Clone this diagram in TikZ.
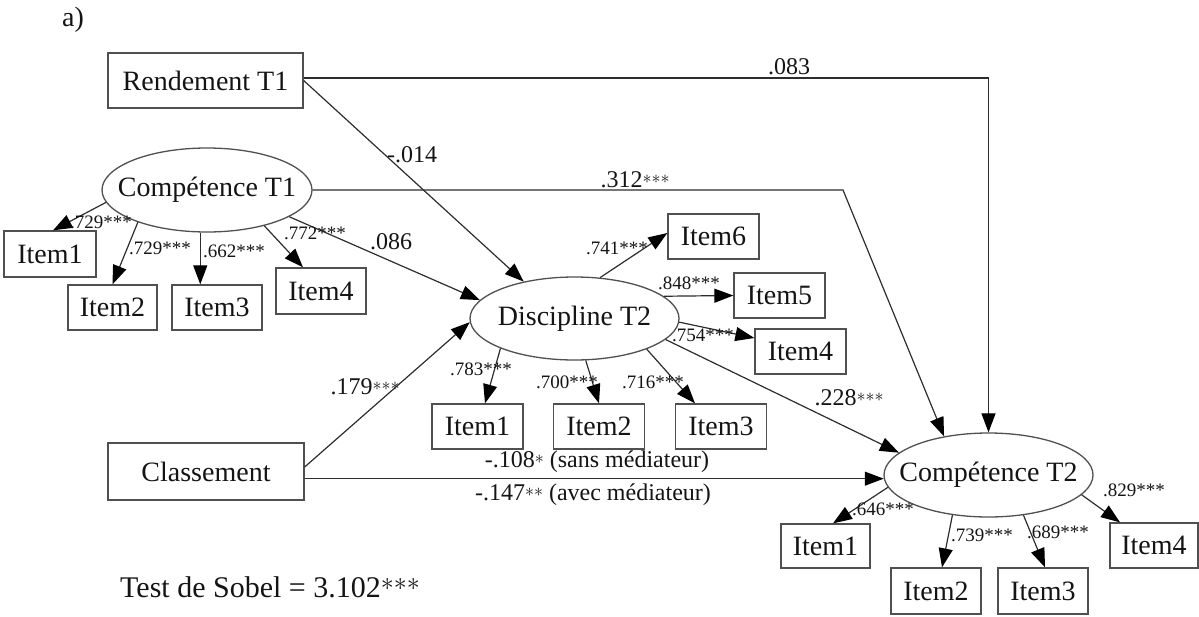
\RequirePackage{fix-cm}
\documentclass[tikz,border=0pt]{standalone}
\usepackage{fontspec}
\setmainfont{Liberation Serif}
\usetikzlibrary{shapes.geometric,arrows.meta,calc}
\definecolor{boxc}{RGB}{80,80,80}
\definecolor{linec}{RGB}{45,45,45}
\definecolor{txtc}{RGB}{20,20,20}
\newcommand{\ellt}[1]{\makebox[0pt][c]{#1}}
\newcommand{\fsz}[1]{\fontsize{#1}{#1}\selectfont}
% centred stars: size, raise, content
\newcommand{\mst}[3]{\raisebox{#2}{\fontsize{#1}{#1}\selectfont$#3$}}
\newcommand{\tri}{{\ast}{\ast}{\ast}}
\begin{document}
\begin{tikzpicture}[x=1pt,y=-1pt,
  box/.style={draw=boxc,line width=1.3pt,rectangle,inner sep=0pt,font=\fsz{28},text=txtc},
  itembox/.style={box,minimum width=90pt,minimum height=45pt},
  lat/.style={draw=boxc,line width=1.3pt,ellipse,inner sep=0pt,font=\fsz{28},text=txtc,minimum width=209pt,minimum height=84pt},
  arr/.style={draw=linec,line width=1.2pt,-{Triangle[length=19pt,width=14pt,color=black]}},
  elab/.style={font=\fsz{24},inner sep=0pt,text=txtc},
  ld/.style={font=\fsz{19},inner sep=0pt,text=txtc}]
\useasboundingbox (0,0) rectangle (1199,616);

% main nodes
\node[box,minimum width=195pt,minimum height=55pt] (rend) at (205.5,80.5) {Rendement T1};
\node[lat,minimum width=210pt] (ct1) at (207,190) {\ellt{Compétence T1}};
\node[lat,minimum height=83pt] (dis) at (574.5,318.5) {\ellt{Discipline T2}};
\node[box,minimum width=196pt,minimum height=57pt] (cls) at (206,471.5) {Classement};
\node[lat] (ct2) at (988.5,475) {\ellt{Compétence T2}};

% items of Competence T1
\node[itembox,minimum width=92pt,minimum height=46pt] (a1) at (50,254) {Item1};
\node[itembox,minimum width=89pt] (a2) at (112.5,307.5) {Item2};
\node[itembox] (a3) at (217,307.5) {Item3};
\node[itembox,minimum height=46pt] (a4) at (321,291) {Item4};

% items of Discipline T2
\node[itembox,minimum width=91pt] (d1) at (477.5,426.5) {Item1};
\node[itembox,minimum width=91pt] (d2) at (599,426.5) {Item2};
\node[itembox,minimum width=91pt] (d3) at (721,426.5) {Item3};
\node[itembox,minimum width=91pt] (d6) at (713.5,236.5) {Item6};
\node[itembox,minimum width=91pt] (d5) at (779.5,295.5) {Item5};
\node[itembox,minimum width=91pt] (d4) at (800.5,351.5) {Item4};

% items of Competence T2
\node[itembox,minimum width=89pt,minimum height=44pt] (c1) at (825.5,546) {Item1};
\node[itembox,minimum height=46pt] (c2) at (936,591) {Item2};
\node[itembox,minimum height=46pt] (c3) at (1043,591) {Item3};
\node[itembox,minimum width=88pt] (c4) at (1154,545.5) {Item4};

% structural paths
\draw[arr] (rend.east) -- (dis.144);
\draw[arr] ($(rend.east)+(0,-2.5)$) -| (ct2.north);
\coordinate (k312) at (843,190);
\draw[arr] (ct1.east) -- (k312) -- (ct2.139);
\draw[arr] (ct1.-18.6) -- (dis.169.4);
\draw[arr] ($(cls.east)+(0,-4.5)$) -- (dis.182);
\draw[arr] (ct2.182.8 -| cls.east) -- (ct2.182.8);
\draw[arr] (dis.-13.3) -- (ct2.166);

% loadings Competence T1
\draw[arr] (ct1.-173) -- ($(a1.north)+(3,0)$);
\draw[arr] (ct1.-155.4) -- (a2.north);
\draw[arr] (ct1.-99.5) -- (ct1.-99.5 |- a3.north);
\draw[arr] (ct1.-32.5) -- ($(a4.north)+(-18,0)$);

% loadings Discipline T2
\draw[arr] (dis.58) -- ($(d6.west)+(0,-3.5)$);
\draw[arr] (dis.14.3) -- (d5.west);
\draw[arr] (dis.-2) -- ($(d4.west)+(0,-13.5)$);
\draw[arr] (dis.-158.5) -- ($(d1.north)+(7.5,0)$);
\draw[arr] (dis.-75) -- (d2.north);
\draw[arr] (dis.-23) -- ($(d3.north)+(-26,0)$);

% loadings Competence T2
\draw[arr] (ct2.-173.4) -- ($(c1.north)+(7.5,0)$);
\draw[arr] (ct2.-132.4) -- ($(c2.north)+(6,0)$);
\draw[arr] (ct2.-49.2) -- ($(c3.north)+(2,0)$);
\draw[arr] (ct2.-12) -- ($(c4.north)+(-34,0)$);

% path labels
\node[elab] (lrd) at (412,155) {-.014};
\node[elab] (lrc) at (789,67) {.083};
\node[elab] (lcc) at (635,180) {.312\mst{18}{4.5pt}{\tri}};
\node[elab] (lcd) at (391,242) {.086};
\node[elab] (lkd) at (365,387) {.179\mst{18}{4.5pt}{\tri}};
\node[elab] (ldc) at (849,398) {.228\mst{18}{4.5pt}{\tri}};
\node[elab] (lk1) at (597,462) {-.108\mst{18}{4.5pt}{\ast} (sans médiateur)};
\node[elab] (lk2) at (593,495) {-.147\mst{18}{4.5pt}{{\ast}{\ast}} (avec médiateur)};

% loading labels
\node[ld] (la1) at (101,222) {.729***};
\node[ld] (la2) at (160,248) {.729***};
\node[ld] (la3) at (234,251) {.662***};
\node[ld] (la4) at (315,233) {.772***};
\node[ld] (ld6) at (617,248) {.741***};
\node[ld] (ld5) at (689,283) {.848***};
\node[ld] (ld4) at (703,335) {.754***};
\node[ld] (ld1) at (481,369) {.783***};
\node[ld] (ld2) at (567,382) {.700***};
\node[ld] (ld3) at (653,382) {.716***};
\node[ld] (lc1) at (883,509) {.646***};
\node[ld] (lc2) at (982,535) {.739***};
\node[ld] (lc3) at (1058,532) {.689***};
\node[ld] (lc4) at (1134,490) {.829***};

% free texts
\node[font=\fsz{28},inner sep=0pt,text=txtc] (tag) at (73,20) {a)};
\node[font=\fsz{30},inner sep=0pt,anchor=west,text=txtc] (sobel) at (120,587) {Test de Sobel = 3.102\mst{26}{7pt}{\tri}};
\end{tikzpicture}
\end{document}
